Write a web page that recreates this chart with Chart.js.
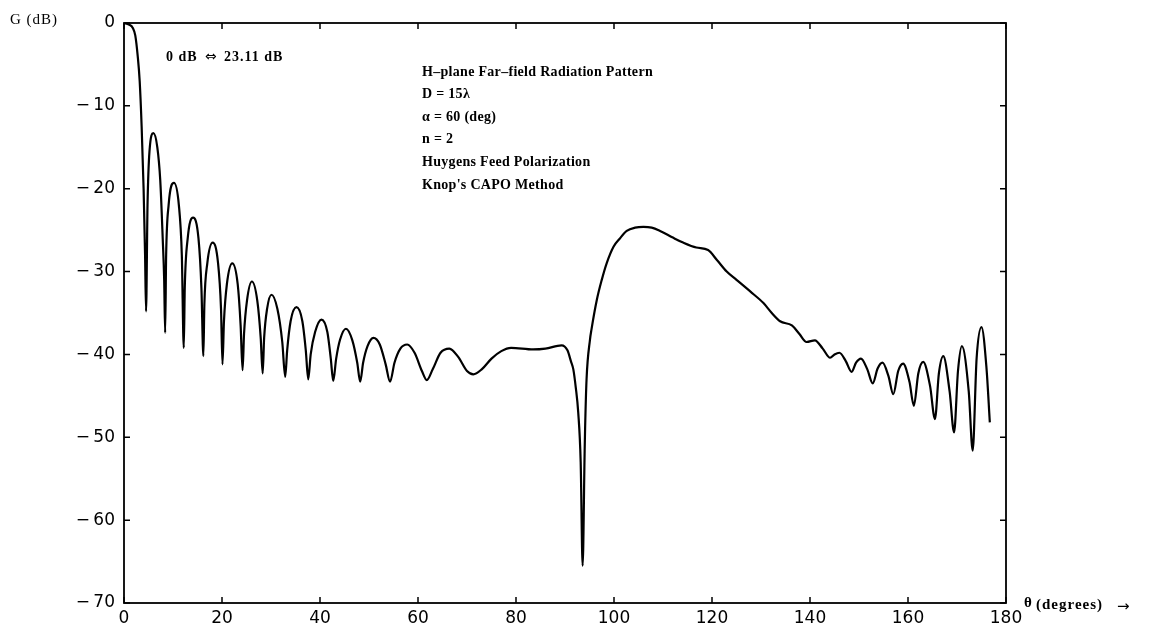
<!DOCTYPE html>
<html>
<head>
<meta charset="utf-8">
<script src="https://cdn.jsdelivr.net/npm/chart.js@4/dist/chart.umd.min.js"></script>
<style>
  html, body { margin: 0; padding: 0; background: #fff; }
  #wrap { width: 1157px; height: 637px; position: relative; }
</style>
</head>
<body>
<div id="wrap"><canvas id="c" width="1157" height="637"></canvas></div>
<script>
// ---- data ----
const thetaDeg = [
  0, 1, 1.8, 2.3, 2.8, 3.2, 3.6, 4.0, 4.3, 4.5,
  4.8, 5.2, 6.0, 6.8, 7.4, 7.9, 8.2, 8.4,
  8.6, 9.1, 10.2, 11.2, 11.8, 12.2,
  12.4, 13.0, 14.1, 15.2, 15.8, 16.2,
  16.4, 17.0, 18.1, 19.2, 19.8, 20.1,
  20.4, 21.0, 22.1, 23.2, 23.8, 24.2,
  24.5, 25.1, 26.1, 27.2, 27.9, 28.3,
  28.6, 29.2, 30.1, 31.3, 32.3, 32.9,
  33.3, 34.0, 35.2, 36.4, 37.1, 37.6,
  38.1, 39.0, 40.3, 41.5, 42.2, 42.7,
  43.3, 44.1, 45.3, 46.6, 47.6, 48.2,
  48.8, 49.7, 50.9, 52.2, 53.4, 54.3,
  55.2, 56.4, 57.8, 59.3, 60.8, 61.8,
  63.0, 64.6, 66.4, 68.2, 70.0, 71.3,
  73.0, 75.0, 77.0, 79.0, 83.5, 86.0, 89.3, 90.5, 91.2, 91.7, 92.2, 92.7, 93.2, 93.6,
  94.0, 94.1, 94.4, 95.1, 95.4, 96.5, 97.5, 98.5, 99.9, 101.2, 102.6, 104.3, 106.0, 107.7,
  109.4, 112.0, 114.1, 116.8, 119.2, 121.0, 123.0, 125.0, 127.8, 130.5, 132.2, 133.9,
  136.3, 137.8, 139.3, 141.0, 142.6, 144.1, 145.0, 146.0, 147.3, 148.5, 149.4, 150.4,
  151.7, 152.8, 153.8, 154.8, 156.0, 157.0, 158.0, 159.0, 160.3, 161.2, 162.1, 163.1,
  164.5, 165.5, 166.3, 167.2, 168.5, 169.4, 170.2, 171.0, 172.4, 173.2, 174.0, 175.0,
  176.0, 176.7
];
const gainDb = [
  0, -0.2, -0.6, -1.5, -4, -7, -12.5, -20, -28, -34.8,
  -22, -15.5, -13.3, -15, -19, -26, -31, -37.4,
  -28, -22, -19.3, -22, -28, -39.2,
  -32, -26, -23.5, -26, -32, -40.2,
  -34, -29, -26.5, -29, -34.5, -41.2,
  -36, -31.5, -29.0, -31.5, -36.5, -41.9,
  -37.5, -33.5, -31.2, -33.5, -38, -42.3,
  -38, -34.5, -32.8, -34.5, -38.5, -42.7,
  -39.5, -36, -34.3, -36, -39.5, -43.0,
  -40, -37.3, -35.8, -37.3, -40.5, -43.2,
  -40.5, -38.2, -36.9, -38.3, -41, -43.3,
  -41, -39, -38.0, -38.8, -41.2, -43.3,
  -41, -39.3, -38.8, -39.8, -42, -43.1,
  -41.8, -39.8, -39.3, -40.3, -42, -42.4,
  -41.8, -40.5, -39.6, -39.2, -39.4, -39.3, -38.9, -39.5, -40.8, -41.8, -44, -47, -53, -65.5,
  -52, -49, -43, -38.2, -37, -33.4, -31, -29, -27, -26, -25.1, -24.7, -24.6, -24.7,
  -25.1, -25.9, -26.5, -27.1, -27.4, -28.6, -30, -31, -32.4, -33.8, -35, -36.0,
  -36.5, -37.5, -38.5, -38.3, -39.3, -40.4, -40.0, -39.8, -40.8, -42.1, -41.0, -40.5,
  -41.8, -43.5, -41.7, -41.0, -42.6, -44.8, -42.0, -41.1, -43.3, -46.2, -42.3, -40.9,
  -43.8, -47.8, -42.3, -40.2, -44.5, -49.4, -42.0, -39.0, -44.5, -51.6, -40.5, -36.7,
  -41.5, -48.2
];
const xTicks = [0, 20, 40, 60, 80, 100, 120, 140, 160, 180];
const yTicks = [0, -10, -20, -30, -40, -50, -60, -70];
const yAxisTitle = "G (dB)";
const xAxisTitle = ["θ", "(degrees)", "→"];
const noteRef = ["0 dB", "⇔", "23.11 dB"];
const noteLines = [
  "H–plane Far–field Radiation Pattern",
  "D = 15λ",
  "α = 60 (deg)",
  "n = 2",
  "Huygens Feed Polarization",
  "Knop's CAPO Method"
];

const points = thetaDeg.map((t, i) => ({ x: t, y: gainDb[i] }));

const framePlugin = {
  id: 'frame',
  afterDraw(chart) {
    const { ctx, chartArea: a, scales: { x, y } } = chart;
    ctx.save();
    ctx.strokeStyle = '#000';
    ctx.lineWidth = 1.8;
    ctx.strokeRect(a.left, a.top, a.right - a.left, a.bottom - a.top);
    const L = 6;
    ctx.lineWidth = 1.5;
    ctx.beginPath();
    xTicks.forEach(v => {
      const px = x.getPixelForValue(v);
      ctx.moveTo(px, a.bottom); ctx.lineTo(px, a.bottom - L);
      ctx.moveTo(px, a.top); ctx.lineTo(px, a.top + L);
    });
    yTicks.forEach(v => {
      const py = y.getPixelForValue(v);
      ctx.moveTo(a.left, py); ctx.lineTo(a.left + L, py);
      ctx.moveTo(a.right, py); ctx.lineTo(a.right - L, py);
    });
    ctx.stroke();

    ctx.fillStyle = '#000';
    ctx.textBaseline = 'middle';
    ctx.textAlign = 'left';
    // axis titles
    ctx.font = '15px "Liberation Serif", serif';
    ctx.letterSpacing = '1px';
    ctx.fillText(yAxisTitle, 10, 20);
    ctx.font = 'bold 15px "Liberation Serif", serif';
    ctx.fillText(xAxisTitle[0], 1024, 603);
    ctx.fillText(xAxisTitle[1], 1036, 605);
    ctx.letterSpacing = '0px';
    ctx.font = '15px "DejaVu Sans", sans-serif';
    ctx.fillText(xAxisTitle[2], 1117, 607);
    // reference note
    ctx.font = 'bold 14px "Liberation Serif", serif';
    ctx.letterSpacing = '1px';
    ctx.fillText(noteRef[0], 166, 57);
    ctx.fillText(noteRef[2], 224, 57);
    ctx.letterSpacing = '0px';
    ctx.font = '14px "DejaVu Sans", sans-serif';
    ctx.fillText(noteRef[1], 205, 57);
    // annotation block
    ctx.font = 'bold 14px "Liberation Serif", serif';
    ctx.letterSpacing = '0.3px';
    noteLines.forEach((s, i) => ctx.fillText(s, 422, 72 + i * 22.6));
    ctx.restore();
  }
};

new Chart(document.getElementById('c'), {
  type: 'line',
  data: {
    datasets: [{
      data: points,
      borderColor: '#000',
      borderWidth: 2.2,
      pointRadius: 0,
      fill: false,
      cubicInterpolationMode: 'monotone'
    }]
  },
  options: {
    responsive: false,
    animation: false,
    layout: { padding: { left: 0, right: 151, top: 23, bottom: 0 } },
    plugins: { legend: { display: false }, tooltip: { enabled: false } },
    scales: {
      x: {
        type: 'linear', min: 0, max: 180,
        afterFit: s => { s.height = 34; },
        afterBuildTicks: s => { s.ticks = xTicks.map(v => ({ value: v })); },
        grid: { display: false, drawTicks: false },
        border: { display: false },
        ticks: { color: '#000', padding: 5, maxRotation: 0,
          font: { family: '"DejaVu Sans", sans-serif', size: 17 } }
      },
      y: {
        type: 'linear', min: -70, max: 0,
        afterFit: s => { s.width = 124; },
        afterBuildTicks: s => { s.ticks = yTicks.map(v => ({ value: v })); },
        grid: { display: false, drawTicks: false },
        border: { display: false },
        ticks: { color: '#000', padding: 9,
          callback: v => v === 0 ? '0' : '−\u2009' + Math.abs(v),
          font: { family: '"DejaVu Sans", sans-serif', size: 17 } }
      }
    }
  },
  plugins: [framePlugin]
});
</script>
</body>
</html>
